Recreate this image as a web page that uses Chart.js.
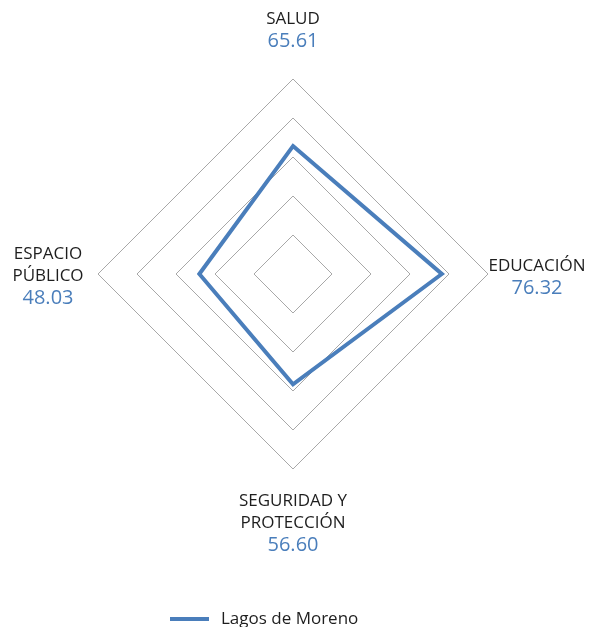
<!DOCTYPE html>
<html>
<head>
<meta charset="utf-8">
<script src="https://cdn.jsdelivr.net/npm/chart.js@4/dist/chart.umd.min.js"></script>
<style>
  html, body { margin: 0; padding: 0; background: #fff; }
  #wrap { width: 590px; height: 627px; position: relative; }
</style>
</head>
<body>
<div id="wrap"><canvas id="radar"></canvas></div>
<script>
const categories = [['SALUD'], ['EDUCACIÓN'], ['SEGURIDAD Y', 'PROTECCIÓN'], ['ESPACIO', 'PÚBLICO']];
const seriesName = 'Lagos de Moreno';
const seriesValues = [65.61, 76.32, 56.60, 48.03];
const scaleMax = 100;
const scaleStep = 20;

const LINE_COLOR = '#4a7ebb';
const TEXT_COLOR = '#1e1e1e';
const FONT = '"Open Sans", "Noto Sans", sans-serif';
const LABEL_SIZE = 17;
const VALUE_SIZE = 20;
const LINE_H = 22;

// offsets of each label block centre from its axis end (top, right, bottom, left)
const labelOffsets = [[0, -49], [49, 3], [0, 54], [-50, 2]];

const labelPlugin = {
  id: 'axisLabels',
  afterDraw(chart) {
    const scale = chart.scales.r;
    const ctx = chart.ctx;
    ctx.save();
    ctx.textAlign = 'center';
    ctx.textBaseline = 'middle';
    categories.forEach((lines, i) => {
      const p = scale.getPointPosition(i, scale.drawingArea);
      const all = [...lines, seriesValues[i].toFixed(2)];
      const cx = p.x + labelOffsets[i][0];
      const cy = p.y + labelOffsets[i][1];
      const top = cy - (all.length - 1) * LINE_H / 2;
      all.forEach((txt, k) => {
        const isValue = k === all.length - 1;
        ctx.font = `${isValue ? VALUE_SIZE : LABEL_SIZE}px ${FONT}`;
        ctx.fillStyle = isValue ? LINE_COLOR : TEXT_COLOR;
        ctx.fillText(txt, cx, top + k * LINE_H);
      });
    });

    // legend
    const ly = 619;
    ctx.strokeStyle = LINE_COLOR;
    ctx.lineWidth = 4;
    ctx.beginPath();
    ctx.moveTo(170, ly);
    ctx.lineTo(209, ly);
    ctx.stroke();
    ctx.font = `17px ${FONT}`;
    ctx.fillStyle = TEXT_COLOR;
    ctx.textAlign = 'left';
    ctx.fillText(seriesName, 221, ly);
    ctx.restore();
  }
};

new Chart(document.getElementById('radar'), {
  type: 'radar',
  data: {
    labels: categories,
    datasets: [{
      label: seriesName,
      data: seriesValues,
      borderColor: LINE_COLOR,
      borderWidth: 4,
      borderJoinStyle: 'miter',
      fill: false,
      pointRadius: 0,
      tension: 0
    }]
  },
  options: {
    responsive: true,
    maintainAspectRatio: false,
    animation: false,
    layout: { padding: { left: 98, right: 102, top: 79, bottom: 158 } },
    plugins: {
      legend: { display: false },
      tooltip: { enabled: false }
    },
    scales: {
      r: {
        min: 0,
        max: scaleMax,
        ticks: { stepSize: scaleStep, display: false },
        pointLabels: { display: false },
        angleLines: { display: false },
        grid: { circular: false, color: '#a8a8a8', lineWidth: 1 }
      }
    }
  },
  plugins: [labelPlugin]
});
</script>
</body>
</html>
